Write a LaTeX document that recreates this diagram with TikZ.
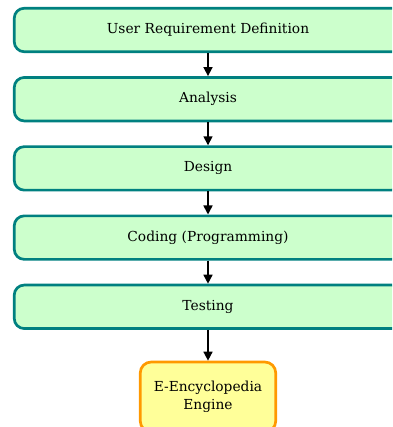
\documentclass[tikz,border=0pt]{standalone}
\usepackage{fontspec}
\setmainfont{DejaVu Serif}
\usepackage{xcolor}
\definecolor{stagefill}{HTML}{CCFFCC}
\definecolor{stageline}{HTML}{008080}
\definecolor{enginefill}{HTML}{FFFF99}
\definecolor{engineline}{HTML}{FF9900}
\usetikzlibrary{positioning,arrows.meta}

\tikzset{
  stagebox/.style={draw=stageline, fill=stagefill, line width=2.7pt,
    rounded corners=10pt, minimum width=387.5pt, minimum height=43.5pt,
    font=\fontsize{13.8}{18}\selectfont, text=black},
  enginebox/.style={draw=engineline, fill=enginefill, line width=2.7pt,
    rounded corners=11pt, minimum width=135.5pt, minimum height=70pt,
    align=center, font=\fontsize{13.8}{18}\selectfont, text=black},
  flow/.style={-{Triangle[length=9pt,width=9pt]}, line width=1.6pt, black}
}

\begin{document}
\begin{tikzpicture}[x=1pt,y=-1pt]
    \useasboundingbox (0,0) rectangle (392,427);
    \clip (0,0) rectangle (392,427);
    % stages
    \node[stagebox] (userreq) at (208,30) {User Requirement Definition};
    \node[stagebox, below=23pt of userreq] (analysis) {Analysis};
    \node[stagebox, below=23pt of analysis] (design) {Design};
    \node[stagebox, below=23pt of design] (coding) {Coding (Programming)};
    \node[stagebox, below=23pt of coding] (testing) {Testing};
    \node[enginebox] (engine) at (208,397) {E-Encyclopedia\\Engine};
    % arrows
    \draw[flow] (userreq) -- (analysis);
    \draw[flow] (analysis) -- (design);
    \draw[flow] (design) -- (coding);
    \draw[flow] (coding) -- (testing);
    \draw[flow] (testing) -- (engine);
  \end{tikzpicture}
\end{document}
